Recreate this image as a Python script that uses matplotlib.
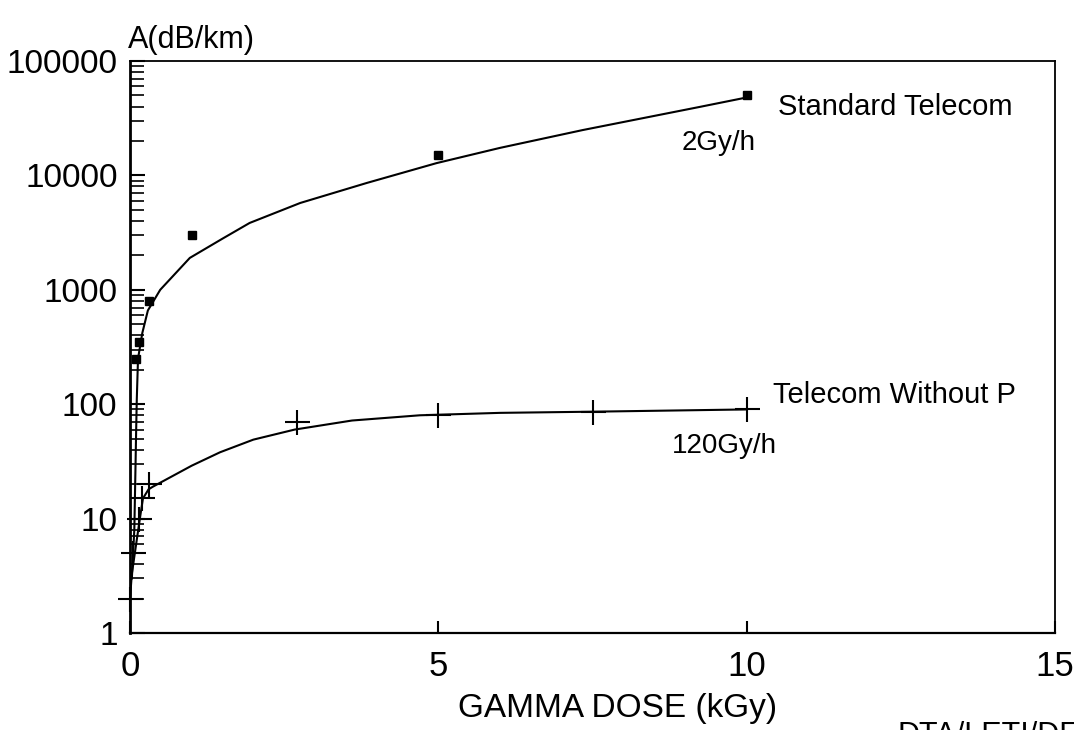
import matplotlib
matplotlib.use("Agg")
import matplotlib.pyplot as plt
from matplotlib.ticker import FixedLocator, FixedFormatter, LogLocator, NullFormatter

plt.rcParams['font.family'] = ['Liberation Sans', 'DejaVu Sans']

# Measured points
std_x = [0.1, 0.15, 0.3, 1, 5, 10]
std_y = [250, 350, 800, 3000, 15000, 50000]

nop_x = [0, 0.05, 0.15, 0.2, 0.3, 2.7, 5, 7.5, 10]
nop_y = [2, 5, 10, 15, 20, 70, 80, 85, 90]

# Fitted curves
std_curve_x = [0.03, 0.07, 0.09, 0.1, 0.11, 0.13, 0.2, 0.29, 0.49, 0.97, 1.5, 1.94,
               2.76, 3.84, 4.97, 6.0, 7.34, 9.24, 10]
std_curve_y = [3, 8, 30, 60, 110, 250, 420, 660, 1000, 1900, 2800, 3840,
               5740, 8590, 12800, 17400, 24900, 39700, 48000]

nop_curve_x = [0, 0.03, 0.1, 0.16, 0.21, 0.3, 0.37, 1.0, 1.46, 2.0, 2.67, 3.6,
               4.7, 6.0, 7.5, 10]
nop_curve_y = [2, 3.3, 6, 10, 15, 18, 19, 29, 38, 49, 60, 72,
               80, 84, 86, 90]

x_ticks = [0, 5, 10, 15]
x_tick_labels = ['0', '5', '10', '15']
y_ticks = [1, 10, 100, 1000, 10000, 100000]
y_tick_labels = ['1', '10', '100', '1000', '10000', '100000']

fig = plt.figure(figsize=(10.74, 7.30), dpi=100)
ax = fig.add_axes([130 / 1074, (730 - 633) / 730, (1055 - 130) / 1074, (633 - 61) / 730])

ax.plot(std_curve_x, std_curve_y, color='black', lw=1.5, clip_on=False)
ax.plot(nop_curve_x, nop_curve_y, color='black', lw=1.5, clip_on=False)
ax.plot(std_x, std_y, linestyle='none', marker='s', ms=6, color='black', clip_on=False)
ax.plot(nop_x, nop_y, linestyle='none', marker='+', ms=18, mew=1.5, color='black', clip_on=False)

ax.set_yscale('log')
ax.set_xlim(0, 15)
ax.set_ylim(1, 100000)

ax.xaxis.set_major_locator(FixedLocator(x_ticks))
ax.xaxis.set_major_formatter(FixedFormatter(x_tick_labels))
ax.yaxis.set_major_locator(FixedLocator(y_ticks))
ax.yaxis.set_major_formatter(FixedFormatter(y_tick_labels))
ax.yaxis.set_minor_locator(LogLocator(base=10, subs=range(2, 10)))
ax.yaxis.set_minor_formatter(NullFormatter())

ax.tick_params(axis='both', which='both', direction='in', top=False, right=False)
ax.tick_params(axis='y', which='major', length=11, width=1.5, labelsize=24, pad=9)
ax.tick_params(axis='y', which='minor', length=10, width=1.2)
ax.tick_params(axis='x', which='major', length=9, width=1.5, labelsize=25, pad=12)

for s in ax.spines.values():
    s.set_linewidth(1.3)
ax.spines['left'].set_linewidth(2)
ax.spines['bottom'].set_linewidth(1.6)

# Texts
fig.text(128 / 1074, 1 - 48 / 730, 'A(dB/km)', fontsize=22, ha='left', va='baseline')
fig.text(778 / 1074, 1 - 115 / 730, 'Standard Telecom', fontsize=21, ha='left', va='baseline')
fig.text(682 / 1074, 1 - 150 / 730, '2Gy/h', fontsize=20, ha='left', va='baseline')
fig.text(773 / 1074, 1 - 403 / 730, 'Telecom Without P', fontsize=21, ha='left', va='baseline')
fig.text(672 / 1074, 1 - 453 / 730, '120Gy/h', fontsize=20, ha='left', va='baseline')
fig.text(618 / 1074, 1 - 717 / 730, 'GAMMA DOSE (kGy)', fontsize=24, ha='center', va='baseline')
fig.text(898 / 1074, 1 - 721 / 730, 'DTA/LETI/DEIN', fontsize=22, ha='left', va='top')

fig.savefig('out.png', dpi=100)
